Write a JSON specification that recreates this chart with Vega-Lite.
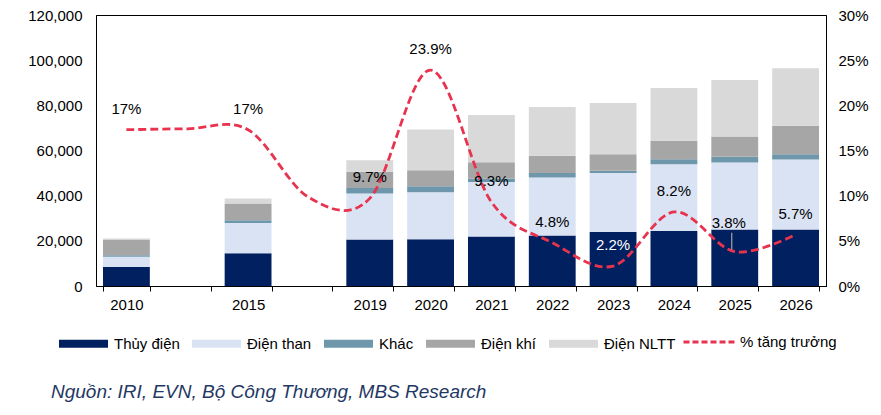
{
  "$schema": "https://vega.github.io/schema/vega-lite/v6.json",
  "width": 730,
  "height": 271,
  "autosize": "none",
  "padding": {"left": 96, "top": 15, "right": 55, "bottom": 129},
  "config": {
    "view": {"stroke": "black", "strokeWidth": 1},
    "font": "Liberation Sans",
    "axis": {"labelFont": "Liberation Sans", "labelFontSize": 15, "labelColor": "black", "domainColor": "black", "tickColor": "black", "grid": false},
    "legend": {"labelFont": "Liberation Sans", "labelFontSize": 15, "labelColor": "black"}
  },
  "datasets": {
    "bars": [
      {"year": "2010", "source": "Thủy điện", "rank": 1, "value": 8400},
      {"year": "2010", "source": "Điện than", "rank": 2, "value": 4500},
      {"year": "2010", "source": "Khác", "rank": 3, "value": 700},
      {"year": "2010", "source": "Điện khí", "rank": 4, "value": 7000},
      {"year": "2010", "source": "Điện NLTT", "rank": 5, "value": 400},
      {"year": "2015", "source": "Thủy điện", "rank": 1, "value": 14500},
      {"year": "2015", "source": "Điện than", "rank": 2, "value": 13430},
      {"year": "2015", "source": "Khác", "rank": 3, "value": 1190},
      {"year": "2015", "source": "Điện khí", "rank": 4, "value": 7410},
      {"year": "2015", "source": "Điện NLTT", "rank": 5, "value": 2210},
      {"year": "2019", "source": "Thủy điện", "rank": 1, "value": 20570},
      {"year": "2019", "source": "Điện than", "rank": 2, "value": 20390},
      {"year": "2019", "source": "Khác", "rank": 3, "value": 2480},
      {"year": "2019", "source": "Điện khí", "rank": 4, "value": 7100},
      {"year": "2019", "source": "Điện NLTT", "rank": 5, "value": 5180},
      {"year": "2020", "source": "Thủy điện", "rank": 1, "value": 20700},
      {"year": "2020", "source": "Điện than", "rank": 2, "value": 20840},
      {"year": "2020", "source": "Khác", "rank": 3, "value": 2660},
      {"year": "2020", "source": "Điện khí", "rank": 4, "value": 7090},
      {"year": "2020", "source": "Điện NLTT", "rank": 5, "value": 18040},
      {"year": "2021", "source": "Thủy điện", "rank": 1, "value": 21900},
      {"year": "2021", "source": "Điện than", "rank": 2, "value": 24200},
      {"year": "2021", "source": "Khác", "rank": 3, "value": 1510},
      {"year": "2021", "source": "Điện khí", "rank": 4, "value": 7230},
      {"year": "2021", "source": "Điện NLTT", "rank": 5, "value": 20830},
      {"year": "2022", "source": "Thủy điện", "rank": 1, "value": 22340},
      {"year": "2022", "source": "Điện than", "rank": 2, "value": 25710},
      {"year": "2022", "source": "Khác", "rank": 3, "value": 2040},
      {"year": "2022", "source": "Điện khí", "rank": 4, "value": 7540},
      {"year": "2022", "source": "Điện NLTT", "rank": 5, "value": 21590},
      {"year": "2023", "source": "Thủy điện", "rank": 1, "value": 23940},
      {"year": "2023", "source": "Điện than", "rank": 2, "value": 26150},
      {"year": "2023", "source": "Khác", "rank": 3, "value": 890},
      {"year": "2023", "source": "Điện khí", "rank": 4, "value": 7400},
      {"year": "2023", "source": "Điện NLTT", "rank": 5, "value": 22610},
      {"year": "2024", "source": "Thủy điện", "rank": 1, "value": 24380},
      {"year": "2024", "source": "Điện than", "rank": 2, "value": 29570},
      {"year": "2024", "source": "Khác", "rank": 3, "value": 2220},
      {"year": "2024", "source": "Điện khí", "rank": 4, "value": 8110},
      {"year": "2024", "source": "Điện NLTT", "rank": 5, "value": 23360},
      {"year": "2025", "source": "Thủy điện", "rank": 1, "value": 25000},
      {"year": "2025", "source": "Điện than", "rank": 2, "value": 29700},
      {"year": "2025", "source": "Khác", "rank": 3, "value": 2490},
      {"year": "2025", "source": "Điện khí", "rank": 4, "value": 9040},
      {"year": "2025", "source": "Điện NLTT", "rank": 5, "value": 24960},
      {"year": "2026", "source": "Thủy điện", "rank": 1, "value": 25000},
      {"year": "2026", "source": "Điện than", "rank": 2, "value": 31030},
      {"year": "2026", "source": "Khác", "rank": 3, "value": 2350},
      {"year": "2026", "source": "Điện khí", "rank": 4, "value": 12550},
      {"year": "2026", "source": "Điện NLTT", "rank": 5, "value": 25440}
    ],
    "growth": [
      {"year": "2010", "growth": 0.173, "label": "17%"},
      {"year": " ", "growth": 0.174, "label": ""},
      {"year": "2015", "growth": 0.173, "label": "17%"},
      {"year": "  ", "growth": 0.098, "label": ""},
      {"year": "2019", "growth": 0.097, "label": "9.7%"},
      {"year": "2020", "growth": 0.239, "label": "23.9%"},
      {"year": "2021", "growth": 0.093, "label": "9.3%"},
      {"year": "2022", "growth": 0.048, "label": "4.8%"},
      {"year": "2023", "growth": 0.022, "label": "2.2%"},
      {"year": "2024", "growth": 0.082, "label": "8.2%"},
      {"year": "2025", "growth": 0.038, "label": "3.8%"},
      {"year": "2026", "growth": 0.057, "label": "5.7%"}
    ]
  },
  "title": {
    "text": "Nguồn: IRI, EVN, Bộ Công Thương, MBS Research",
    "orient": "bottom",
    "anchor": "start",
    "frame": "group",
    "font": "Liberation Sans",
    "fontSize": 19,
    "fontStyle": "italic",
    "fontWeight": "normal",
    "color": "#1f3864",
    "offset": 31,
    "dx": -45
  },
  "encoding": {
    "x": {
      "field": "year",
      "type": "nominal",
      "scale": {"domain": ["2010", " ", "2015", "  ", "2019", "2020", "2021", "2022", "2023", "2024", "2025", "2026"], "paddingInner": 0.23, "paddingOuter": 0.115},
      "axis": {"title": null, "labelAngle": 0, "tickBand": "extent", "tickSize": 5, "labelPadding": 6, "domainColor": "black"}
    }
  },
  "layer": [
    {
      "data": {"name": "bars"},
      "mark": {"type": "bar"},
      "encoding": {
        "y": {
          "field": "value",
          "type": "quantitative",
          "stack": "zero",
          "scale": {"domain": [0, 120000]},
          "axis": {"title": null, "ticks": false, "labelPadding": 14, "values": [0, 20000, 40000, 60000, 80000, 100000, 120000], "format": ",.0f"}
        },
        "order": {"field": "rank", "type": "quantitative", "sort": "ascending"},
        "fill": {
          "field": "source",
          "type": "nominal",
          "sort": ["Thủy điện", "Điện than", "Khác", "Điện khí", "Điện NLTT"],
          "scale": {"domain": ["Thủy điện", "Điện than", "Khác", "Điện khí", "Điện NLTT"], "range": ["#002060", "#dae3f3", "#6e97ac", "#a6a6a6", "#d9d9d9"]},
          "legend": {
            "title": null,
            "orient": "none",
            "direction": "horizontal",
            "columns": 5,
            "legendX": -37,
            "legendY": 304,
            "symbolType": "M-1,-0.163H1V0.163H-1Z",
            "symbolSize": 2401,
            "symbolStrokeWidth": 0,
            "labelOffset": 6,
            "columnPadding": 12
          }
        }
      }
    },
    {
      "data": {"name": "growth"},
      "layer": [
        {
          "mark": {"type": "line", "interpolate": "cardinal", "strokeDash": [8, 4], "strokeWidth": 2.8},
          "encoding": {
            "y": {
              "field": "growth",
              "type": "quantitative",
              "scale": {"domain": [0, 0.3]},
              "axis": {"title": null, "orient": "right", "ticks": false, "labelPadding": 12, "values": [0, 0.05, 0.1, 0.15, 0.2, 0.25, 0.3], "format": ".0%"}
            },
            "order": {"value": null},
            "stroke": {
              "datum": "% tăng trưởng",
              "type": "nominal",
              "scale": {"range": ["#e8334f"]},
              "legend": {
                "title": null,
                "orient": "none",
                "legendX": 586,
                "legendY": 299,
                "symbolType": "stroke",
                "symbolSize": 2809,
                "symbolStrokeWidth": 3,
                "symbolDash": [6, 3],
                "labelOffset": 2
              }
            }
          }
        },
        {
          "transform": [{"filter": "datum.year !== '2025'"}],
          "mark": {"type": "text", "dy": -21, "fontSize": 15, "baseline": "middle", "font": "Liberation Sans"},
          "encoding": {
            "y": {"field": "growth", "type": "quantitative"},
            "text": {"field": "label"},
            "color": {"condition": {"test": "datum.year === '2023'", "value": "white"}, "value": "black"}
          }
        },
        {
          "transform": [{"filter": "datum.year === '2025'"}],
          "mark": {"type": "text", "dy": -29, "dx": -6, "fontSize": 15, "baseline": "middle", "font": "Liberation Sans", "color": "black"},
          "encoding": {
            "y": {"field": "growth", "type": "quantitative"},
            "text": {"field": "label"}
          }
        },
        {
          "transform": [{"filter": "datum.year === '2025'"}],
          "mark": {"type": "rule", "color": "#a6a6a6", "strokeWidth": 1.2, "xOffset": -3, "yOffset": -2, "y2Offset": -19},
          "encoding": {
            "y": {"field": "growth", "type": "quantitative"},
            "y2": {"field": "growth"}
          }
        }
      ]
    }
  ],
  "resolve": {"scale": {"y": "independent"}}
}
